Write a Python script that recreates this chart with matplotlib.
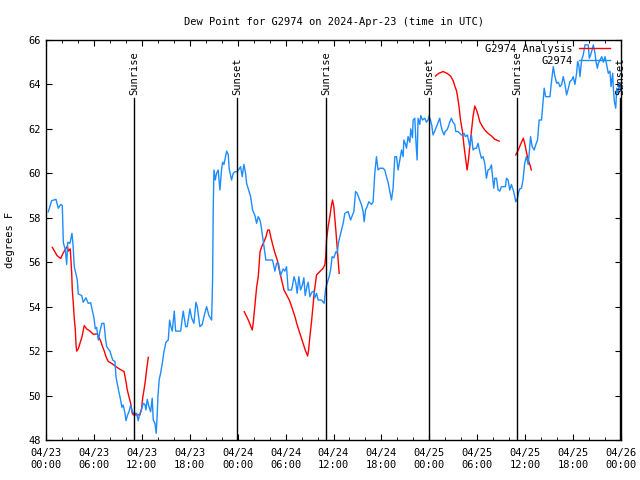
import numpy as np
import matplotlib
matplotlib.use("Agg")
import matplotlib.pyplot as plt
import matplotlib.transforms as mtransforms

plt.rcParams['font.family'] = 'DejaVu Sans Mono'
plt.rcParams['font.size'] = 7.5

# hours since 2024-04-23 00:00 UTC
obs_hours = [0.29, 0.71, 1.25, 1.54, 1.84, 2.04, 2.17, 2.42, 2.59, 2.72, 3.0, 3.25, 3.38, 3.54,
             3.92, 4.04, 4.47, 4.67, 5.0, 5.29, 5.59, 5.79, 6.0, 6.17, 6.34, 6.55, 6.76, 7.01,
             7.26, 7.47, 7.6, 8.01, 8.35, 8.64, 8.76, 9.05, 9.26, 9.51, 9.67, 9.89, 10.01, 10.22,
             10.39, 10.6, 10.76, 10.93, 11.35, 11.55, 11.68, 11.98, 12.18, 12.39, 12.51, 12.68,
             12.89, 13.1, 13.3, 13.43, 13.64, 13.8, 13.93, 14.02, 14.18, 14.35, 14.56, 14.77,
             15.02, 15.31, 15.48, 15.64, 15.81, 16.06, 16.23, 16.56, 16.86, 17.18, 17.49, 17.68,
             18.02, 18.23, 18.52, 18.77, 18.94, 19.27, 19.56, 19.81, 20.11, 20.4, 20.74, 20.86,
             20.94, 21.03, 21.19, 21.36, 21.56, 21.78, 21.99, 22.12, 22.28, 22.62, 22.82, 22.94,
             23.24, 23.44, 23.65, 23.94, 24.19, 24.37, 24.57, 24.78, 24.99, 25.12, 25.41, 25.62,
             25.87, 26.16, 26.37, 26.57, 26.78, 26.91, 27.12, 27.28, 27.53, 28.03, 28.37, 28.66,
             28.87, 29.12, 29.37, 29.7, 29.91, 30.12, 30.32, 30.75, 31.07, 31.29, 31.45, 31.66,
             31.87, 32.08, 32.29, 32.45, 32.7, 32.83, 33.04, 33.29, 33.54, 33.67, 33.88, 34.08,
             34.5, 34.83, 35.0, 35.13, 35.46, 35.63, 35.83, 36.05, 36.29, 36.46, 36.63, 36.8,
             37.21, 37.42, 37.83, 38.14, 38.55, 38.76, 38.96, 39.17, 39.51, 39.71, 39.84, 40.01,
             40.21, 40.42, 40.76, 40.96, 41.17, 41.38, 41.58, 41.8, 42.21, 42.42, 42.63, 42.83,
             43.05, 43.26, 43.46, 43.68, 43.89, 44.09, 44.3, 44.52, 44.72, 44.81, 45.02, 45.14,
             45.34, 45.56, 45.68, 45.89, 45.97, 46.18, 46.31, 46.47, 46.59, 46.8, 46.93, 47.14,
             47.43, 47.64, 47.84, 47.96, 48.14, 48.3, 48.46, 48.68, 48.89, 49.09, 49.3, 49.43,
             49.59, 49.84, 50.01, 50.21, 50.38, 50.55, 50.76, 50.96, 51.18, 51.31, 51.6, 51.81,
             52.02, 52.22, 52.35, 52.52, 52.77, 53.06, 53.27, 53.47, 53.69, 53.9, 54.1, 54.31,
             54.52, 54.73, 54.94, 55.15, 55.35, 55.57, 55.78, 55.9, 56.07, 56.2, 56.41, 56.61,
             56.82, 57.03, 57.23, 57.53, 57.66, 57.86, 58.07, 58.28, 58.4, 58.57, 58.69, 58.82,
             59.03, 59.2, 59.32, 59.53, 59.73, 59.94, 60.15, 60.38, 60.54, 60.67, 60.88, 61.13,
             61.34, 61.55, 61.75, 61.84, 62.05, 62.26, 62.38, 62.56, 62.85, 63.1, 63.32, 63.52,
             63.73, 63.95, 64.15, 64.36, 64.57, 64.77, 64.98, 65.19, 65.39, 65.61, 65.82, 66.02,
             66.23, 66.44, 66.57, 66.73, 66.86, 67.07, 67.27, 67.49, 67.9, 68.03, 68.2, 68.37,
             68.53, 68.75, 68.87, 69.04, 69.16, 69.37, 69.59, 69.79, 70.0, 70.21, 70.41, 70.62,
             70.75, 70.96, 71.04, 71.17, 71.34, 71.47, 71.64, 71.81, 71.98]
obs_dewpt = [58.27, 58.77, 58.83, 58.43, 58.6, 58.55, 56.88, 56.55, 55.9, 56.9, 56.85, 57.3, 56.8, 55.8,
             55.2, 54.57, 54.5, 54.2, 54.4, 54.15, 54.18, 53.85, 53.5, 53.0, 53.07, 52.5, 52.9, 53.25,
             53.25, 52.5, 52.2, 52.0, 51.6, 51.53, 50.85, 50.3, 49.95, 49.47, 49.57, 49.2, 48.87, 49.13,
             49.27, 49.57, 49.35, 49.2, 49.2, 48.87, 49.1, 49.4, 49.65, 49.6, 49.35, 49.83,
             49.5, 49.27, 49.88, 48.9, 48.75, 48.3, 49.2, 50.0, 50.73, 51.0, 51.45, 51.97,
             52.4, 52.5, 53.4, 53.1, 52.9, 53.8, 52.9, 52.9, 52.9, 53.8, 53.1, 53.1,
             53.9, 53.5, 53.25, 54.2, 54.0, 53.1, 53.2, 53.6, 54.0, 53.6, 53.4, 55.2,
             58.4, 60.15, 59.7, 60.0, 60.15, 59.25, 60.2, 60.5, 60.4, 61.0, 60.85, 60.2,
             59.7, 60.0, 60.07, 60.07, 60.2, 60.3, 59.85, 60.4, 60.0, 59.55, 59.2, 58.95,
             58.35, 58.1, 57.75, 58.05, 57.9, 57.7, 57.15, 56.7, 56.1, 56.1, 56.1, 55.6,
             55.95, 55.95, 55.4, 55.7, 55.6, 55.8, 54.75, 54.75, 55.35, 55.05, 54.6, 55.35,
             54.75, 54.95, 55.3, 54.5, 54.95, 55.1, 54.45, 54.65, 54.7, 54.4, 54.6, 54.3,
             54.3, 54.15, 54.75, 54.97, 55.35, 55.65, 56.25, 56.2, 56.47, 56.4, 56.9, 57.15,
             57.75, 58.2, 58.28, 57.9, 58.28, 59.18, 59.1, 58.9, 58.58, 58.28, 57.82, 58.35,
             58.5, 58.72, 58.6, 58.72, 60.0, 60.75, 60.15, 60.23, 60.23, 60.15, 59.85, 59.6,
             59.2, 58.8, 59.33, 60.75, 60.75, 60.15, 60.6, 61.05, 60.75, 61.5, 61.3, 61.13,
             61.65, 61.4, 62.0, 61.6, 62.4, 62.48, 61.5, 60.6, 62.48, 62.2, 62.6, 62.4,
             62.48, 62.3, 62.4, 62.6, 62.4, 62.18, 61.73, 61.9, 62.1, 62.3, 62.48, 62.2,
             61.95, 61.73, 61.9, 61.95, 62.1, 62.3, 62.48, 62.3, 62.2, 61.88, 61.88, 61.8,
             61.73, 61.73, 61.8, 61.65, 61.73, 61.2, 61.73, 61.05, 61.13, 61.13, 61.35, 60.98,
             60.68, 60.75, 60.45, 59.78, 60.15, 60.2, 60.38, 59.9, 59.33, 59.78, 59.78, 59.25,
             59.2, 59.4, 59.4, 59.4, 59.78, 59.7, 59.25, 59.5, 59.35, 59.18, 58.95, 58.72,
             58.87, 59.18, 59.3, 59.33, 59.7, 60.45, 60.75, 60.4, 61.05, 61.65, 61.2, 61.05,
             61.3, 61.5, 62.4, 62.4, 62.4, 63.3, 63.83, 63.45, 63.45, 63.45, 64.2, 64.8,
             64.35, 64.05, 64.1, 63.9, 64.0, 64.35, 64.0, 63.53, 63.8, 64.13, 64.2, 64.35,
             64.0, 64.5, 65.03, 64.85, 64.35, 65.1, 65.33, 65.78, 65.78, 65.18, 65.33, 65.55,
             65.78, 65.4, 65.03, 64.73, 64.95, 65.1, 65.25, 65.0, 65.25, 64.88, 64.5, 64.6,
             63.9, 64.5, 63.83, 63.23, 62.93, 63.83, 63.6, 64.05, 63.75]

nan = np.nan
ana_hours = [0.79, 1.06, 1.38, 1.84, 2.13, 2.67, 2.79, 3.04, 3.22, 3.29, 3.42, 3.54, 3.67, 3.76,
             3.84, 4.04, 4.26, 4.51, 4.79, 5.09, 5.51, 5.92, 6.42, 6.85, 7.05, 7.3, 7.51, 7.8,
             8.22, 8.64, 9.27, 9.77, 9.98, 10.18, 10.39, 10.6, 10.8, 10.93, 11.77, 11.98, 12.1,
             12.27, 12.43, 12.61, 12.81, 18.0,
             24.83, 25.33, 25.83, 25.96, 26.17, 26.38, 26.58, 26.8, 27.01, 27.21, 27.55, 27.76,
             27.96, 28.14, 28.39, 28.68, 28.96, 29.21, 29.51, 29.8, 30.13, 30.46, 30.83, 31.17,
             31.45, 31.79, 32.13, 32.46, 32.76, 32.88, 33.04, 33.25, 33.46, 33.58, 33.71, 33.88,
             34.29, 34.7, 34.92, 35.04, 35.13, 35.33, 35.54, 35.75, 35.88, 36.04, 36.17, 36.29,
             36.42, 36.58, 36.71, 42.0,
             48.77, 49.18, 49.72, 50.22, 50.65, 50.98, 51.19, 51.4, 51.52, 51.72, 51.9, 52.15,
             52.35, 52.57, 52.73, 52.9, 53.06, 53.27, 53.47, 53.69, 53.9, 54.1, 54.31, 54.65,
             54.94, 55.35, 55.78, 56.2, 56.74, 57.5,
             58.82, 59.14, 59.48, 59.77, 59.98, 60.19, 60.39, 60.6, 60.77]
ana_dewpt = [56.67, 56.5, 56.3, 56.17, 56.4, 56.73, 56.5, 56.6, 55.5, 54.75, 54.15, 53.48, 52.95, 52.28,
             52.0, 52.1, 52.35, 52.65, 53.15, 53.0, 52.9, 52.76, 52.77, 52.45, 52.23, 52.0, 51.75, 51.53,
             51.45, 51.33, 51.18, 51.08, 50.7, 50.25, 49.95, 49.65, 49.2, 49.13, 49.13, 49.43, 49.88,
             50.25, 50.63, 51.2, 51.72, nan,
             53.77, 53.4, 52.95, 53.3, 54.08, 54.9, 55.35, 56.47, 56.7, 56.85, 57.15, 57.45,
             57.45, 57.15, 56.78, 56.4, 56.1, 55.65, 55.2, 54.75, 54.53, 54.3, 53.93, 53.55,
             53.18, 52.8, 52.43, 52.05, 51.78, 52.05, 52.65, 53.33, 54.15, 54.6, 54.98, 55.43,
             55.58, 55.73, 55.88, 56.33, 57.0, 57.6, 58.05, 58.58, 58.8, 58.5, 57.98, 57.45,
             56.85, 56.17, 55.5, nan,
             64.38, 64.5, 64.58, 64.5, 64.38, 64.17, 63.93, 63.72, 63.48, 63.0, 62.4, 61.88,
             61.2, 60.6, 60.15, 60.6, 61.2, 61.88, 62.55, 63.03, 62.85, 62.63, 62.33, 62.1,
             61.95, 61.8, 61.68, 61.53, 61.45, nan,
             60.83, 61.05, 61.35, 61.58, 61.28, 60.9, 60.6, 60.38, 60.15]

sun_hours = [11.0, 23.9, 35.05, 47.95, 59.0, 71.9]
sun_labels = ['Sunrise', 'Sunset', 'Sunrise', 'Sunset', 'Sunrise', 'Sunset']

tick_hours = [0, 6, 12, 18, 24, 30, 36, 42, 48, 54, 60, 66, 72]
tick_labels = ['04/23\n00:00', '04/23\n06:00', '04/23\n12:00', '04/23\n18:00',
               '04/24\n00:00', '04/24\n06:00', '04/24\n12:00', '04/24\n18:00',
               '04/25\n00:00', '04/25\n06:00', '04/25\n12:00', '04/25\n18:00',
               '04/26\n00:00']

fig = plt.figure(figsize=(6.4, 4.8), dpi=100)
ax = fig.add_axes([46/640, 40/480, 575/640, 400/480])

ax.plot(ana_hours, ana_dewpt, color='red', lw=1.0, label='G2974 Analysis')
ax.plot(obs_hours, obs_dewpt, color='#1E8CFF', lw=1.0, label='G2974')

trans = mtransforms.blended_transform_factory(ax.transData, ax.transAxes)
for h, lab in zip(sun_hours, sun_labels):
    ax.axvline(h, ymin=0, ymax=0.855, color='black', lw=1.0)
    ax.text(h, 0.8625, lab, rotation=90, ha='center', va='bottom',
            transform=trans, clip_on=False)

ax.set_xlim(0, 72)
ax.set_ylim(48, 66)
ax.set_xticks(tick_hours)
ax.set_xticklabels(tick_labels)
ax.set_xticks(np.arange(0, 73, 2), minor=True)
ax.set_yticks(np.arange(48, 67, 2))
ax.tick_params(which='both', direction='in', top=True, right=True)
ax.tick_params(which='major', length=4, pad=6)
ax.tick_params(which='minor', length=2.5)
ax.tick_params(axis='y', pad=4)
for s in ax.spines.values():
    s.set_linewidth(1.0)

ax.set_title('Dew Point for G2974 on 2024-Apr-23 (time in UTC)', fontsize=7.5, pad=11)
ax.set_ylabel('degrees F', labelpad=9)

ax.legend(loc='upper right', bbox_to_anchor=(0.981, 0.99), frameon=False,
          markerfirst=False, handlelength=3, borderaxespad=0, borderpad=0,
          labelspacing=0.2, handletextpad=0.6)

fig.savefig('out.png', dpi=100)
